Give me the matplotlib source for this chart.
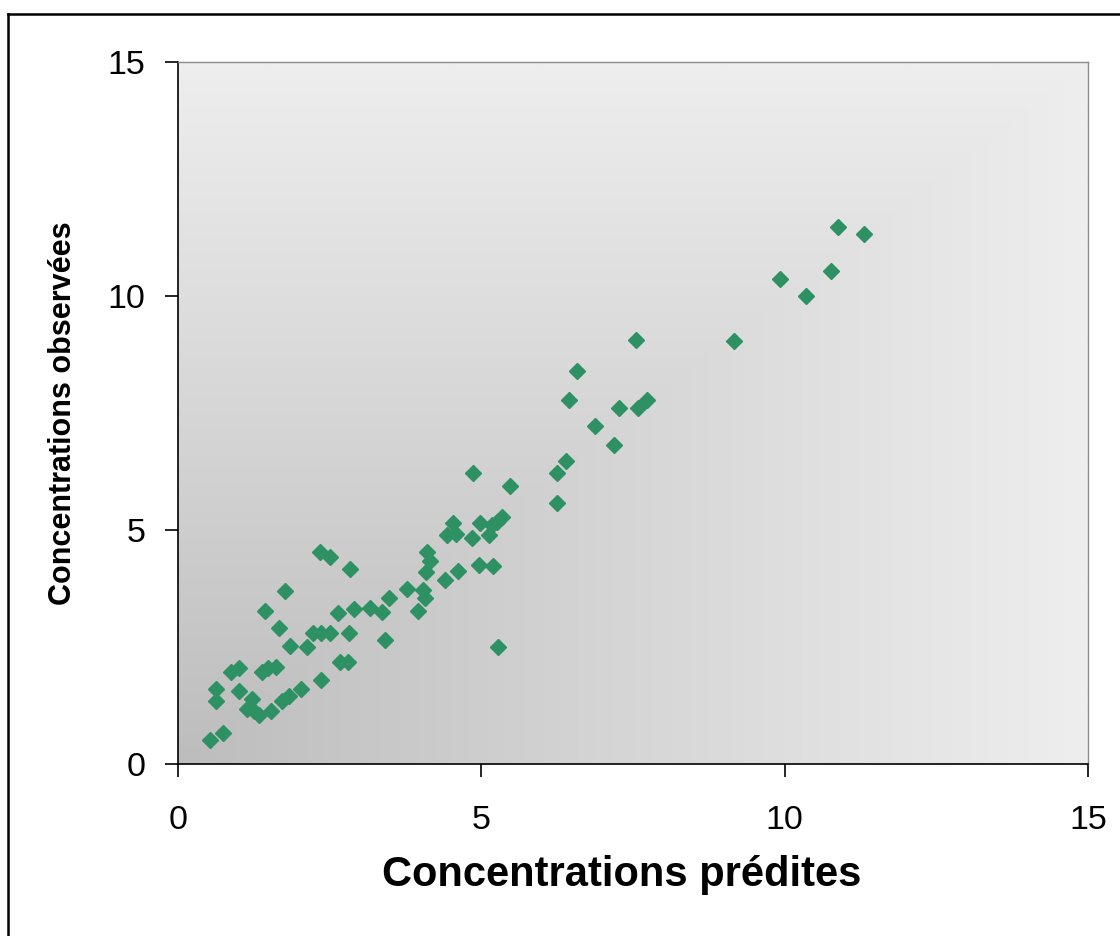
import numpy as np
import matplotlib
matplotlib.use("Agg")
import matplotlib.pyplot as plt
from matplotlib.lines import Line2D
from matplotlib.colors import LinearSegmentedColormap

plt.rcParams['font.family'] = ['Liberation Sans', 'DejaVu Sans']

predites = [0.52, 0.74, 0.62, 0.62, 1.01, 1.22, 1.13, 1.25, 1.34, 1.53, 1.71, 1.83,
            2.02, 2.36, 0.87, 1.01, 1.38, 1.49, 1.62, 1.67, 1.44, 1.77, 1.85, 2.12,
            2.22, 2.36, 2.50, 2.82, 2.67, 2.81, 2.34, 2.50, 2.83, 2.64, 2.90, 3.17,
            3.37, 3.42, 3.47, 3.77, 4.04, 4.07, 3.96, 4.10, 4.16, 4.08, 4.40, 4.62,
            4.96, 5.20, 4.54, 4.43, 4.59, 4.84, 4.98, 5.12, 5.17, 5.25, 5.34, 4.87,
            5.47, 5.27, 6.25, 6.24, 6.40, 6.45, 6.57, 6.87, 7.19, 7.27, 7.59, 7.73,
            7.55, 9.17, 9.93, 10.35, 10.77, 10.88, 11.31]
observees = [0.51, 0.66, 1.60, 1.35, 1.56, 1.38, 1.18, 1.14, 1.04, 1.14, 1.34, 1.46,
             1.61, 1.79, 1.96, 2.06, 1.97, 2.05, 2.08, 2.91, 3.26, 3.70, 2.53, 2.51,
             2.79, 2.79, 2.79, 2.79, 2.17, 2.17, 4.54, 4.43, 4.16, 3.22, 3.32, 3.34,
             3.25, 2.65, 3.54, 3.73, 3.72, 3.54, 3.27, 4.52, 4.33, 4.10, 3.94, 4.13,
             4.25, 4.24, 5.16, 4.89, 4.91, 4.82, 5.14, 4.89, 5.11, 5.18, 5.28, 6.21,
             5.93, 2.49, 5.57, 6.21, 6.47, 7.78, 8.40, 7.22, 6.82, 7.60, 7.60, 7.78,
             9.05, 9.04, 10.36, 10.01, 10.53, 11.47, 11.32]
ticks = [0, 5, 10, 15]

fig = plt.figure(figsize=(11.2, 9.36), dpi=100)
ax = fig.add_axes([178 / 1120, 172 / 936, 910 / 1120, 702 / 936])

# fond en degrade depuis le coin bas gauche
u = np.linspace(0, 1, 300)
U, V = np.meshgrid(u, u)
grad = np.maximum(U, V)
cmap = LinearSegmentedColormap.from_list('fond', ['#bdbdbd', '#d6d6d6', '#eeeeee'])
ax.imshow(grad, extent=[0, 15, 0, 15], origin='lower', cmap=cmap, aspect='auto', zorder=0)

ax.plot(predites, observees, 'D', color='#2e9163', markersize=8.5, zorder=3)

ax.set_xlim(0, 15)
ax.set_ylim(0, 15)
ax.set_xticks(ticks)
ax.set_yticks(ticks)
ax.tick_params(direction='out', length=9.5, width=1.2, labelsize=24.5, color='black')
ax.tick_params(axis='x', pad=20)
ax.tick_params(axis='y', pad=14)

for s in ['left', 'bottom']:
    ax.spines[s].set_color('black')
    ax.spines[s].set_linewidth(1.2)
for s in ['top', 'right']:
    ax.spines[s].set_color('#8c8c8c')
    ax.spines[s].set_linewidth(1.0)

ax.set_xlabel('Concentrations prédites', fontsize=30, fontweight='bold')
ax.set_ylabel('Concentrations observées', fontsize=22, fontweight='bold')
ax.xaxis.set_label_coords(0.488, -0.13)
ax.yaxis.set_label_coords(-0.11, 0.5)

# cadre autour de la figure
fig.add_artist(Line2D([8 / 1120, 8 / 1120], [0, 1 - 14 / 936], color='black', lw=1.8))
fig.add_artist(Line2D([8 / 1120, 1], [1 - 14 / 936, 1 - 14 / 936], color='black', lw=1.8))

fig.savefig('out.png', dpi=100)
